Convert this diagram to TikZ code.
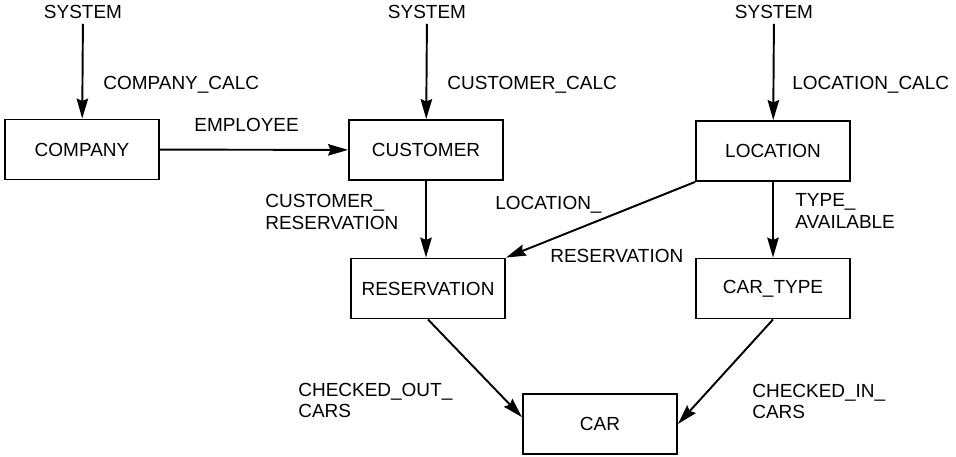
\documentclass[tikz,border=0pt]{standalone}
\usepackage{fontspec}
\setmainfont{Liberation Sans}
\usepackage{tikz}
\usetikzlibrary{arrows.meta, positioning}
\tikzset{
  entity/.style={rectangle, draw=black, line width=1.1pt, fill=white,
                 minimum width=3.08cm, minimum height=1.2cm, align=center, font=\fontsize{10.8}{12}\selectfont},
  src/.style={inner sep=2.8pt, font=\fontsize{10.8}{12}\selectfont},
  lbl/.style={anchor=west, align=left, inner sep=0pt, font=\fontsize{10.8}{12.2}\selectfont},
  arr/.style={-{Stealth[length=4mm, width=2.3mm, inset=0.5mm]}, line width=1.1pt},
}

\begin{document}
\begin{tikzpicture}
\useasboundingbox (0,0) rectangle (19.12,-9.12);
\node[src] (sysa) at (1.66,-0.24) {SYSTEM};
\node[src] (sysb) at (8.54,-0.24) {SYSTEM};
\node[src] (sysc) at (15.48,-0.24) {SYSTEM};
\node[entity] (company)     at (1.64,-2.99)  {COMPANY};
\node[entity] (customer)    at (8.52,-3.0)   {CUSTOMER};
\node[entity] (location)    at (15.46,-3.02) {LOCATION};
\node[entity] (reservation) at (8.56,-5.77)  {RESERVATION};
\node[entity] (cartype)     at (15.46,-5.77) {CAR\_TYPE};
\node[entity] (car)         at (12.0,-8.48)  {CAR};
\draw[arr] (sysa) -- (company);
\draw[arr] (sysb) -- (customer);
\draw[arr] (sysc) -- (location);
\draw[arr] (company) -- (customer);
\draw[arr] (customer.south) -- (customer.south |- reservation.north);
\draw[arr] (location.south west) -- (reservation.north east);
\draw[arr] (location.south) -- (location.south |- cartype.north);
\draw[arr] (reservation.south) -- (car.175);
\draw[arr] (cartype.south) -- (car.east);
\node[lbl] (lcompcalc) at (2.06,-1.70)  {COMPANY\_CALC};
\node[lbl] (lcustcalc) at (8.94,-1.70)  {CUSTOMER\_CALC};
\node[lbl] (lloccalc)  at (15.84,-1.70) {LOCATION\_CALC};
\node[lbl] (lemployee) at (3.88,-2.50)  {EMPLOYEE};
\node[lbl] (lcustres)  at (5.30,-4.24)  {CUSTOMER\_\\RESERVATION};
\node[lbl] (llocres)   at (9.90,-4.10)  {LOCATION\_};
\node[lbl] (llocresb)  at (11.0,-5.12)  {RESERVATION};
\node[lbl] (ltype)     at (15.9,-4.22)  {TYPE\_\\AVAILABLE};
\node[lbl] (lcout)     at (5.96,-8.01)  {CHECKED\_OUT\_\\CARS};
\node[lbl] (lcin)      at (15.04,-8.03) {CHECKED\_IN\_\\CARS};
\end{tikzpicture}
\end{document}
